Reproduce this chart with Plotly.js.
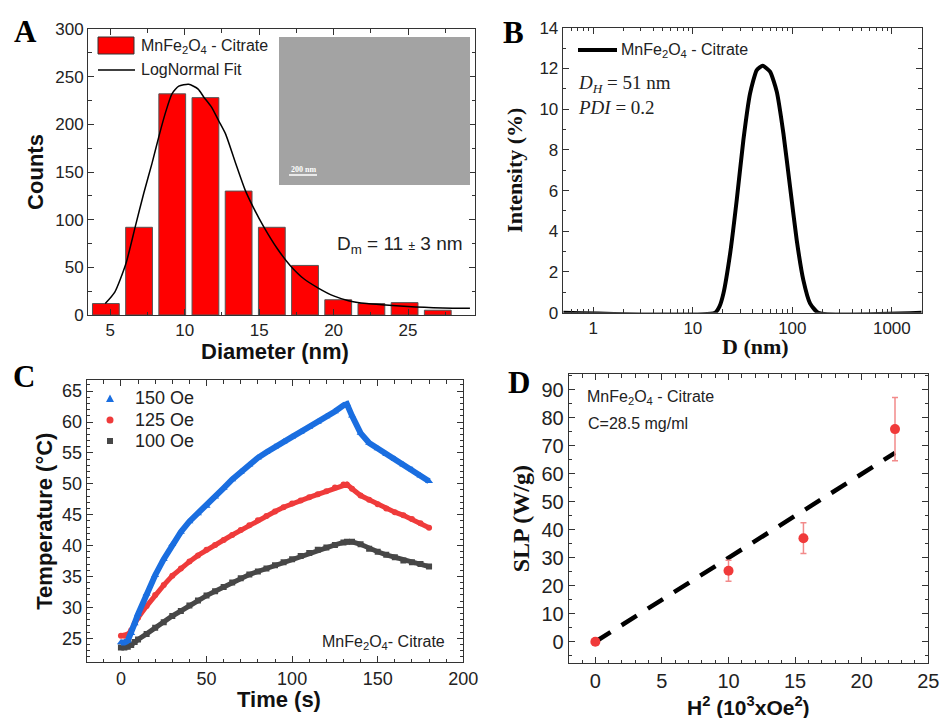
<!DOCTYPE html>
<html><head><meta charset="utf-8">
<script src="https://cdn.plot.ly/plotly-3.0.1.min.js"></script>
<style>html,body{margin:0;padding:0;background:#fff}#chart{width:940px;height:718px}</style>
</head><body><div id="chart"></div>
<script>
// ---------- Panel A: size histogram ----------
const binCenters = [4.7, 6.93, 9.16, 11.39, 13.62, 15.85, 18.08, 20.31, 22.54, 24.77, 27.0];
const binCounts  = [12, 92, 232, 228, 130, 92, 52, 16, 12, 13, 5];
const fitX = [4.66, 5.3, 6.05, 6.68, 7.25, 7.8, 8.29, 8.7, 9.14, 9.6, 10.26, 10.9, 11.26, 11.8, 12.27, 12.74, 13.4, 14.06, 14.7, 15.29, 16.2, 17.08, 18.0, 19.0, 20.0, 21.0, 22.23, 23.5, 24.46, 25.5, 26.7, 28.0, 29.16];
const fitY = [12, 24, 54, 93, 128, 159, 189, 212, 232, 240, 242, 237, 229, 218, 204, 190, 160, 131, 110, 93, 70, 52, 38, 28, 20, 15, 12, 10.5, 9.4, 8.5, 7.7, 7.2, 7];

// ---------- Panel B: DLS ----------
const dlsD = [0.5, 16.7, 18.5, 20.3, 23.7, 27.6, 32.2, 37.6, 43.9, 50.4, 59.7, 69.7, 81.3, 94.8, 110.6, 129, 150.6, 182, 2000];
const dlsI = [0, 0, 0.3, 0.95, 2.91, 5.53, 8.48, 10.77, 11.92, 12.13, 11.84, 10.86, 8.81, 6.19, 3.57, 1.6, 0.46, 0, 0];

// ---------- Panel C: heating curves ----------
const timeS = [0,2,4,6,8,10,15,20,25,30,35,40,45,50,55,60,65,70,75,80,85,90,95,100,105,110,115,120,125,130,132,135,140,145,150,155,160,165,170,175,180];
const T150 = [24.3,24.3,24.6,25.8,27.4,28.9,32.2,35.2,37.8,40.2,42.2,43.9,45.2,46.4,47.9,49.3,50.7,51.9,53.1,54.2,55.1,56.0,56.8,57.6,58.4,59.2,60.0,60.9,61.7,62.7,62.9,61.0,58.2,56.6,55.7,54.8,54.0,53.1,52.3,51.3,50.4];
const T125 = [25.4,25.4,25.6,26.3,27.4,28.3,30.2,32.0,33.6,35.1,36.3,37.4,38.4,39.3,40.1,40.9,41.7,42.5,43.3,44.1,44.8,45.5,46.2,46.8,47.3,47.8,48.3,48.8,49.4,49.9,49.9,49.2,48.1,47.4,46.7,46.0,45.4,44.9,44.3,43.6,42.9];
const T100 = [23.5,23.5,23.6,23.9,24.4,24.8,25.7,26.7,27.6,28.6,29.4,30.3,31.1,31.9,32.6,33.3,34.0,34.7,35.3,35.8,36.3,36.8,37.3,37.8,38.3,38.8,39.3,39.7,40.1,40.5,40.6,40.6,40.2,39.5,39.0,38.5,38.1,37.6,37.3,37.0,36.6];
const seriesNames = ['150 Oe', '125 Oe', '100 Oe'];

// ---------- Panel D: SLP vs H^2 ----------
const H2 = [0, 10, 15.625, 22.5];
const SLP = [0, 25.4, 37.0, 76.0];
const SLPerr = [0, 3.75, 5.5, 11.3];
const fitH2 = [0, 22.5];
const fitSLP = [0, 67.5];

const W = 940, H = 718;
const px = v => v / W, py = v => 1 - v / H;
const SANS = 'Liberation Sans, Arial, sans-serif';
const SERIF = 'Liberation Serif, Times New Roman, serif';
const AX = '#333';
const blue = '#1a6ee0', red = '#ef3b3b', gray = '#474747';

function axis(o) {
  return Object.assign({
    showline: true, linecolor: AX, linewidth: 1, mirror: 'allticks',
    ticks: 'inside', ticklen: 6, tickwidth: 1, tickcolor: AX,
    showgrid: false, zeroline: false, automargin: false,
    tickfont: {family: SANS, size: 17, color: '#222'}
  }, o);
}
function minor(d) { return {dtick: d, ticks: 'inside', ticklen: 3.5, tickcolor: AX, showgrid: false}; }

const traces = [
  {type: 'bar', x: binCenters, y: binCounts, width: 1.8, marker: {color: '#ff0000', line: {color: '#555', width: 1}},
   xaxis: 'x', yaxis: 'y', showlegend: false},
  {type: 'scatter', mode: 'lines', x: fitX, y: fitY, line: {color: '#000', width: 1.5, shape: 'spline', smoothing: 0.6},
   xaxis: 'x', yaxis: 'y', showlegend: false},
  {type: 'scatter', mode: 'lines', x: dlsD, y: dlsI, line: {color: '#000', width: 4, shape: 'spline', smoothing: 0.5},
   xaxis: 'x2', yaxis: 'y2', showlegend: false},
  {type: 'scatter', mode: 'lines+markers', x: timeS, y: T100, name: seriesNames[2], line: {color: gray, width: 5},
   marker: {symbol: 'square', size: 6, color: gray}, xaxis: 'x3', yaxis: 'y3', showlegend: false},
  {type: 'scatter', mode: 'lines+markers', x: timeS, y: T125, name: seriesNames[1], line: {color: red, width: 5},
   marker: {symbol: 'circle', size: 6, color: red}, xaxis: 'x3', yaxis: 'y3', showlegend: false},
  {type: 'scatter', mode: 'lines+markers', x: timeS, y: T150, name: seriesNames[0], line: {color: blue, width: 6},
   marker: {symbol: 'triangle-up', size: 7, color: blue}, xaxis: 'x3', yaxis: 'y3', showlegend: false},
  {type: 'scatter', mode: 'lines', x: fitH2, y: fitSLP, line: {color: '#000', width: 4.5, dash: '18px,13px'},
   xaxis: 'x4', yaxis: 'y4', showlegend: false},
  {type: 'scatter', mode: 'markers', x: H2, y: SLP, marker: {color: '#f03a3a', size: 10},
   error_y: {type: 'data', array: SLPerr, visible: true, color: '#f28a8a', thickness: 1.5, width: 3},
   xaxis: 'x4', yaxis: 'y4', showlegend: false}
];

const shapes = [
  // Panel A inset (TEM micrograph placeholder)
  {type: 'rect', xref: 'paper', yref: 'paper', x0: px(279), x1: px(470), y0: py(185), y1: py(37), fillcolor: '#a3a3a3', line: {width: 0}, layer: 'above'},
  {type: 'line', xref: 'paper', yref: 'paper', x0: px(289), x1: px(317), y0: py(175), y1: py(175), line: {color: '#fff', width: 1.5}, layer: 'above'},
  // Panel A legend
  {type: 'rect', xref: 'paper', yref: 'paper', x0: px(98), x1: px(134), y0: py(54), y1: py(37), fillcolor: '#ff0000', line: {color: '#333', width: 1}},
  {type: 'line', xref: 'paper', yref: 'paper', x0: px(98), x1: px(135), y0: py(70), y1: py(70), line: {color: '#000', width: 1.5}},
  // Panel B legend
  {type: 'line', xref: 'paper', yref: 'paper', x0: px(578), x1: px(617), y0: py(50), y1: py(50), line: {color: '#000', width: 4}},
  // Panel C legend symbols
  {type: 'path', xref: 'paper', yref: 'paper', path: `M ${px(106)} ${py(402)} L ${px(114)} ${py(402)} L ${px(110)} ${py(394.5)} Z`, fillcolor: blue, line: {width: 0}},
  {type: 'circle', xref: 'paper', yref: 'paper', x0: px(106.5), x1: px(113.5), y0: py(423.5), y1: py(416.5), fillcolor: red, line: {width: 0}},
  {type: 'rect', xref: 'paper', yref: 'paper', x0: px(107), x1: px(113), y0: py(444), y1: py(438), fillcolor: gray, line: {width: 0}}
];

function ann(x, y, text, size, opts) {
  return Object.assign({xref: 'paper', yref: 'paper', x: px(x), y: py(y), text: text, showarrow: false,
    xanchor: 'left', yanchor: 'middle', font: {family: SANS, size: size, color: '#222'}}, opts || {});
}
const boldSans = s => ({family: SANS, size: s, color: '#111', weight: 'bold'});
const boldSerif = s => ({family: SERIF, size: s, color: '#111', weight: 'bold'});
const letterFont = {family: SERIF, size: 31, color: '#000', weight: 'bold'};
const annotations = [
  ann(25, 31, 'A', 31, {xanchor: 'center', font: letterFont}),
  ann(513, 33, 'B', 31, {xanchor: 'center', font: letterFont}),
  ann(24, 377, 'C', 31, {xanchor: 'center', font: letterFont}),
  ann(519, 382, 'D', 31, {xanchor: 'center', font: letterFont}),
  // x-axis titles
  ann(275, 352, 'Diameter (nm)', 22, {xanchor: 'center', font: boldSans(22)}),
  ann(755, 346, 'D (nm)', 22, {xanchor: 'center', font: boldSerif(22)}),
  ann(279, 699, 'Time (s)', 22, {xanchor: 'center', font: boldSans(22)}),
  ann(748, 706, 'H<sup>2</sup> (10<sup>3</sup>xOe<sup>2</sup>)', 21, {xanchor: 'center', font: boldSans(21)}),
  // panel texts
  ann(139, 46, 'MnFe<sub>2</sub>O<sub>4</sub> - Citrate', 16),
  ann(139, 70, 'LogNormal Fit', 16),
  ann(303, 169, '200 nm', 8, {xanchor: 'center', font: {family: SERIF, size: 8, color: '#fff', weight: 'bold'}}),
  ann(465, 245, 'D<sub>m</sub> = 11 <span style="font-size:12px">±</span> 3 nm', 19, {xanchor: 'right'}),
  ann(619, 50, 'MnFe<sub>2</sub>O<sub>4</sub> - Citrate', 16),
  ann(576, 84, '<i>D</i><sub><i>H</i></sub> = 51 nm', 19, {font: {family: SERIF, size: 19, color: '#222'}}),
  ann(576, 108, '<i>PDI</i> = 0.2', 19, {font: {family: SERIF, size: 19, color: '#222'}}),
  ann(133, 398, seriesNames[0], 18),
  ann(133, 420, seriesNames[1], 18),
  ann(133, 441, seriesNames[2], 18),
  ann(447, 642, 'MnFe<sub>2</sub>O<sub>4</sub>- Citrate', 16, {xanchor: 'right'}),
  ann(585, 397, 'MnFe<sub>2</sub>O<sub>4</sub> - Citrate', 16),
  ann(586, 423, 'C=28.5 mg/ml', 16)
];

const layout = {
  width: W, height: H, margin: {l: 0, r: 0, t: 0, b: 0}, paper_bgcolor: '#fff', plot_bgcolor: '#fff',
  showlegend: false, bargap: 0,
  xaxis: axis({domain: [px(88), px(475)], anchor: 'y', range: [3.5, 29.5], dtick: 5, tick0: 0, minor: minor(2.5)}),
  yaxis: axis({domain: [py(315), py(29)], anchor: 'x', range: [0, 300], dtick: 50, minor: minor(25),
    title: {text: 'Counts', font: boldSans(22), standoff: 5}}),
  xaxis2: axis({domain: [px(562.7), px(921.7)], anchor: 'y2', type: 'log', range: [-0.308, 3.30], dtick: 1,
    minor: {ticks: 'inside', ticklen: 3.5, tickcolor: AX, showgrid: false}}),
  yaxis2: axis({domain: [py(312.7), py(27.7)], anchor: 'x2', range: [0, 14], dtick: 2, minor: minor(1),
    title: {text: 'Intensity (%)', font: boldSerif(22), standoff: 10}}),
  xaxis3: axis({domain: [px(86.7), px(463.3)], anchor: 'y3', range: [-20, 200], dtick: 50, tick0: 0, minor: minor(10),
    tickfont: {family: SANS, size: 18, color: '#222'}}),
  yaxis3: axis({domain: [py(662.3), py(380)], anchor: 'x3', range: [21.1, 66.8], dtick: 5, tick0: 0, minor: minor(1),
    tickfont: {family: SANS, size: 18, color: '#222'},
    title: {text: 'Temperature (°C)', font: boldSans(22), standoff: 3}}),
  xaxis4: axis({domain: [px(568.7), px(928.3)], anchor: 'y4', range: [-2, 25], dtick: 5, tick0: 0, minor: minor(1),
    tickfont: {family: SANS, size: 20, color: '#222'}}),
  yaxis4: axis({domain: [py(663.3), py(374)], anchor: 'x4', range: [-7.7, 95.7], dtick: 10, tick0: 0, minor: minor(5),
    tickfont: {family: SANS, size: 20, color: '#222'},
    title: {text: 'SLP (W/g)', font: boldSerif(24), standoff: 5}}),
  shapes: shapes,
  annotations: annotations
};

Plotly.newPlot('chart', traces, layout, {displayModeBar: false, staticPlot: true});
</script>
</body></html>
